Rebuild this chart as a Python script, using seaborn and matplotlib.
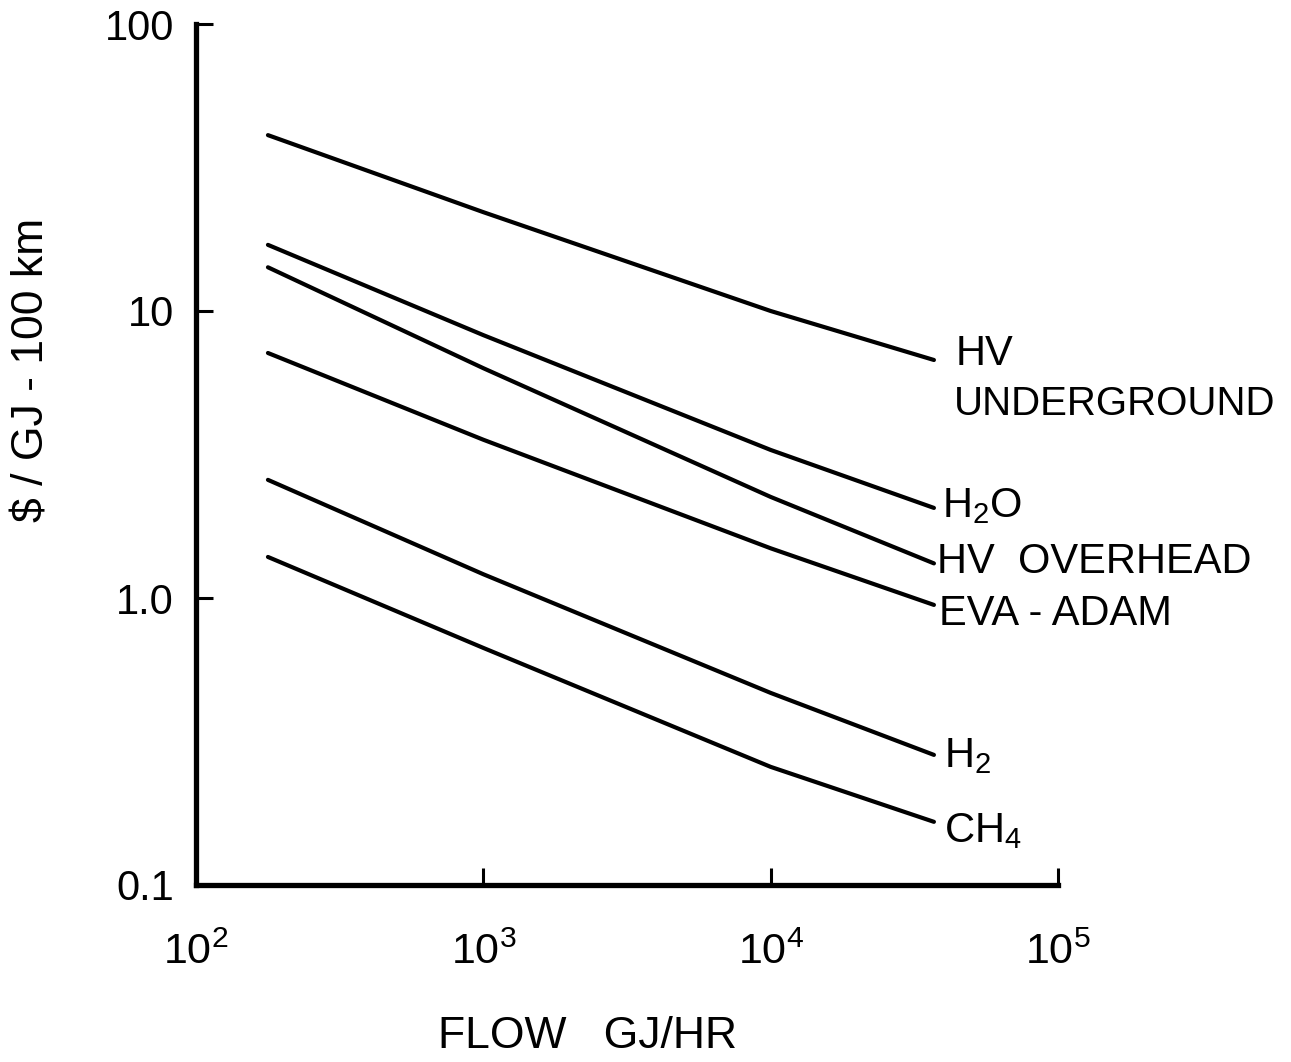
import numpy as np
import pandas as pd
import matplotlib
matplotlib.use("Agg")
import matplotlib.pyplot as plt
import seaborn as sns

# ---- data ----
flow = [178, 1000, 10000, 37000]          # GJ/HR
hv_underground = [41.0, 22.1, 10.0, 6.75]
h2o = [17.0, 8.24, 3.28, 2.06]
hv_overhead = [14.2, 6.32, 2.25, 1.32]
eva_adam = [7.14, 3.56, 1.49, 0.946]
h2 = [2.58, 1.21, 0.467, 0.284]
ch4 = [1.39, 0.67, 0.258, 0.166]

series_keys = ["HV UNDERGROUND", "H2O", "HV OVERHEAD", "EVA - ADAM", "H2", "CH4"]
series_vals = [hv_underground, h2o, hv_overhead, eva_adam, h2, ch4]

x_ticks = [1e2, 1e3, 1e4, 1e5]
x_ticklabels = [r"$10^{2}$", r"$10^{3}$", r"$10^{4}$", r"$10^{5}$"]
y_ticks = [0.1, 1.0, 10, 100]
y_ticklabels = ["0.1", "1.0", "10", "100"]

rows = []
for k, vals in zip(series_keys, series_vals):
    for xv, yv in zip(flow, vals):
        rows.append({"series": k, "flow": xv, "cost": yv})
df = pd.DataFrame(rows)

# ---- style ----
sns.set_style("ticks")
plt.rcParams["font.family"] = ["Liberation Sans", "DejaVu Sans"]
plt.rcParams["mathtext.default"] = "regular"

fig = plt.figure(figsize=(12.91, 10.62), dpi=100)
ax = fig.add_axes([196 / 1291, 1 - 885 / 1062, (1058 - 196) / 1291, (885 - 24) / 1062])

sns.lineplot(data=df, x="flow", y="cost", hue="series", units="series",
             estimator=None, palette=["black"] * len(series_keys),
             linewidth=3.0, legend=False, ax=ax, sort=False)

ax.set_xscale("log")
ax.set_yscale("log")
ax.set_xlim(1e2, 1e5)
ax.set_ylim(0.1, 100)
ax.set_xticks(x_ticks)
ax.set_xticklabels(x_ticklabels)
ax.set_yticks(y_ticks)
ax.set_yticklabels(y_ticklabels)
ax.minorticks_off()
ax.set_xlabel("")
ax.set_ylabel("")

sns.despine(ax=ax)
for s in ["left", "bottom"]:
    ax.spines[s].set_linewidth(3.8)
    ax.spines[s].set_color("black")

ax.tick_params(axis="both", which="major", direction="in", length=12, width=2.2,
               color="black", labelcolor="black")
ax.tick_params(axis="x", pad=34, labelsize=31)
ax.tick_params(axis="y", pad=16, labelsize=30)

# ---- curve labels ----
curve_labels = [
    ("HV", 0, 22, -5, 30),
    ("UNDERGROUND", 0, 20, -55, 29),
    ("H$_2$O", 1, 8, -9, 30),
    ("HV  OVERHEAD", 2, 3, -10, 30),
    ("EVA - ADAM", 3, 5, -20, 30),
    ("H$_2$", 4, 10, -12, 30),
    ("CH$_4$", 5, 10, -20, 30),
]
px2pt = 72 / 100
for text, idx, dx, dy, fs in curve_labels:
    ax.annotate(text, xy=(flow[-1], series_vals[idx][-1]), xycoords="data",
                xytext=(dx * px2pt, dy * px2pt), textcoords="offset points",
                ha="left", va="baseline", fontsize=fs, color="black",
                annotation_clip=False)

fig.text(588 / 1291, 1 - 1037 / 1062, "FLOW   GJ/HR", ha="center", va="center",
         fontsize=32, color="black")
fig.text(32 / 1291, 1 - 370 / 1062, "\\$ / GJ - 100 km", ha="center", va="center",
         rotation=90, fontsize=32, color="black")

fig.savefig("out.png", dpi=100, facecolor="white")
